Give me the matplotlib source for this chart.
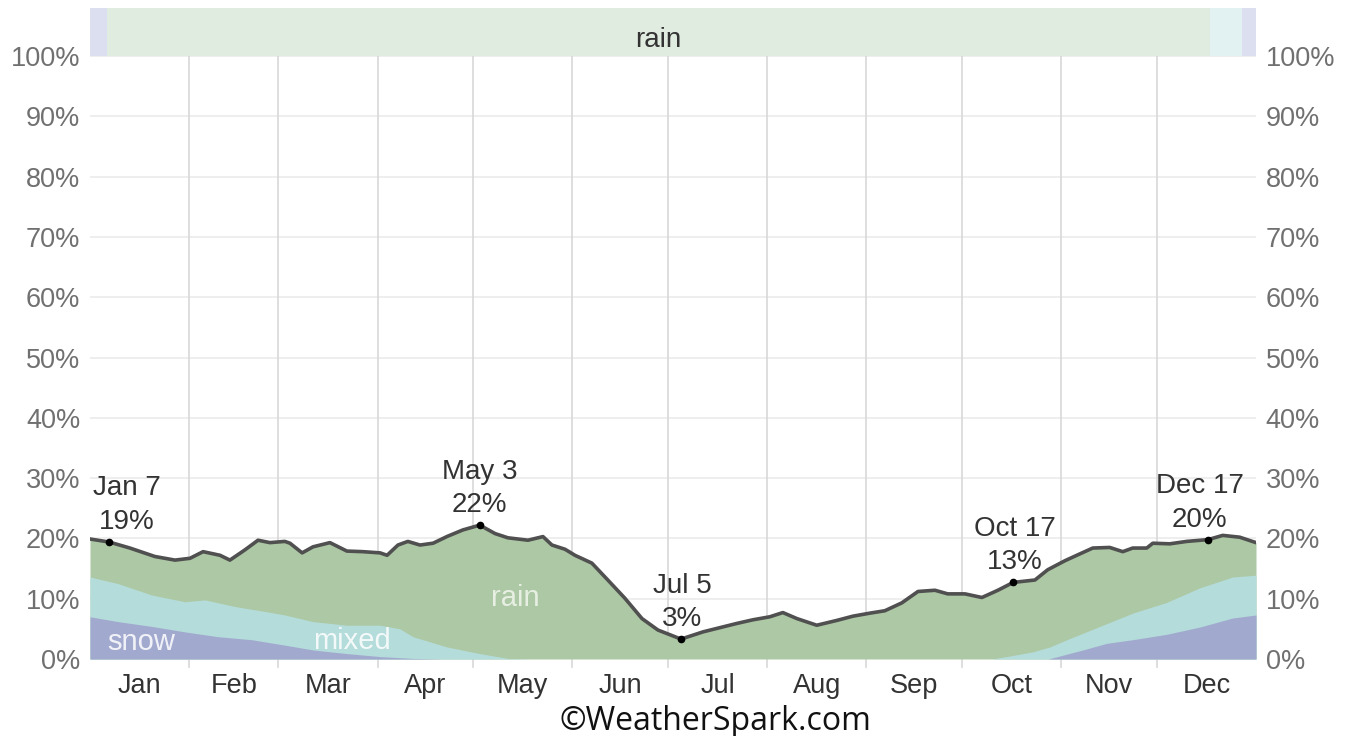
import matplotlib
matplotlib.use("Agg")
import matplotlib.pyplot as plt

# ---------------- data (day of year, percent) ----------------
month_names = ["Jan", "Feb", "Mar", "Apr", "May", "Jun", "Jul", "Aug", "Sep", "Oct", "Nov", "Dec"]
month_lengths = [31, 28, 31, 30, 31, 30, 31, 31, 30, 31, 30, 31]

total_days = [0, 6, 12.5, 20.3, 26.6, 31.3, 35.4, 40.7, 43.8, 48.5, 52.6, 56.3, 61, 62.6, 66.4,
              69.8, 75.1, 80.4, 85.4, 90.8, 93, 96.4, 99.5, 103.3, 107.4, 111.7, 116.7, 122,
              126.8, 130.8, 137.1, 141.8, 144.6, 148.7, 151.8, 157.1, 162.1, 167.4, 172.8,
              177.8, 183.1, 185, 191.9, 197.2, 202.5, 207.5, 212.8, 216.9, 221.3, 227.5,
              233.8, 238.8, 244.1, 248.8, 254.1, 259.2, 264.5, 268.5, 273.9, 279.2, 284.2,
              289, 295.8, 299.8, 305.2, 308.9, 313.9, 319.2, 323.3, 326.4, 330.8, 332.7,
              338, 343.3, 350, 354.6, 359.9, 365]
total_vals = [19.9, 19.4, 18.4, 17.0, 16.4, 16.7, 17.8, 17.2, 16.4, 18.1, 19.7, 19.3, 19.5, 19.2, 17.6,
              18.6, 19.3, 17.9, 17.8, 17.6, 17.2, 18.9, 19.5, 18.9, 19.2, 20.3, 21.4, 22.2,
              20.8, 20.1, 19.7, 20.3, 18.9, 18.2, 17.2, 15.9, 13.1, 10.1, 6.7,
              4.8, 3.7, 3.3, 4.5, 5.2, 5.9, 6.5, 7.0, 7.7, 6.7, 5.6,
              6.4, 7.1, 7.6, 8.0, 9.3, 11.2, 11.4, 10.8, 10.8, 10.2, 11.4,
              12.7, 13.1, 14.8, 16.3, 17.2, 18.4, 18.5, 17.8, 18.4, 18.4, 19.2,
              19.1, 19.5, 19.8, 20.5, 20.2, 19.3]

# cumulative snow + mixed
mixed_days = [0, 8.8, 19.4, 29.7, 36, 45.4, 55.7, 61, 69.8, 80.4, 90.8, 97, 101.1, 111.7, 122,
              130.8, 137.7, 282.3, 288, 295.2, 300.5, 305.8, 316.1, 326.4, 337.1, 347.4, 357.7, 365]
mixed_vals = [13.6, 12.5, 10.6, 9.5, 9.8, 8.7, 7.8, 7.3, 6.2, 5.6, 5.6, 5.0, 3.7, 2.0, 0.9,
              0.1, 0.0, 0.0, 0.5, 1.2, 2.0, 3.2, 5.4, 7.6, 9.4, 11.8, 13.6, 13.9]

snow_days = [0, 8.8, 19.4, 29.7, 40, 50.6, 61, 69.8, 80.4, 90.8, 101, 110, 300, 310.8, 318.3,
             326.4, 337.1, 347.4, 357.7, 365]
snow_vals = [7.0, 6.2, 5.4, 4.5, 3.7, 3.2, 2.3, 1.5, 0.9, 0.4, 0.1, 0.0, 0.0, 1.5, 2.6,
             3.2, 4.1, 5.3, 6.8, 7.3]

# annotated extremes
ann_days = [6, 122, 185, 289, 350]
ann_vals = [19.4, 22.2, 3.3, 12.7, 19.8]
ann_labels = ["Jan 7\n19%", "May 3\n22%", "Jul 5\n3%", "Oct 17\n13%", "Dec 17\n20%"]

# top band: most likely type per day (type, start day, end day)
band_types = ["snow", "rain", "mixed", "snow"]
band_starts = [0, 5.3, 350.5, 360.6]
band_ends = [5.3, 350.5, 360.6, 365]

# ---------------- styling ----------------
C_RAIN = "#adc8a4"
C_MIXED = "#b4dcda"
C_SNOW = "#a2a9cf"
BAND = {"rain": "#e1ece0", "mixed": "#e2f1f1", "snow": "#dcdff0"}
FONT = ["Liberation Sans", "DejaVu Sans"]
plt.rcParams["font.family"] = FONT

W, H = 1354, 736
fig = plt.figure(figsize=(W / 100, H / 100), dpi=100)
L, R, B, T = 90, 1256, 659, 56
ax = fig.add_axes([L / W, 1 - B / H, (R - L) / W, (B - T) / H])

ax.set_xlim(0, 365)
ax.set_ylim(0, 100)

# grid
for v in range(0, 101, 10):
    ax.axhline(v, color="#ebebeb", lw=1.2, zorder=0)
starts = [sum(month_lengths[:i]) for i in range(12)]
for s in starts[1:]:
    ax.axvline(s, ymin=-0.014, ymax=1, color="#d8d8d8", lw=1.2, zorder=0.5, clip_on=False)

# stacked areas
ax.fill_between(total_days, 0, total_vals, color=C_RAIN, lw=0, zorder=1)
ax.fill_between(mixed_days, 0, mixed_vals, color=C_MIXED, lw=0, zorder=2)
ax.fill_between(snow_days, 0, snow_vals, color=C_SNOW, lw=0, zorder=3)
ax.plot(total_days, total_vals, color="#505050", lw=2.6, zorder=4, solid_joinstyle="round")

# area labels
ax.text(16, 2.9, "snow", color="white", fontsize=21, ha="center", va="center", alpha=0.85, zorder=5)
ax.text(82, 3.0, "mixed", color="white", fontsize=21, ha="center", va="center", alpha=0.85, zorder=5)
ax.text(133, 10.1, "rain", color="#e6efe2", fontsize=21, ha="center", va="center", zorder=5)

# annotations
offs = [13, 0, 1, 1, -6]
for d, v, lab, o in zip(ann_days, ann_vals, ann_labels, offs):
    ax.plot([d], [v], "o", color="black", ms=4.5, zorder=6)
    ax.annotate(lab, (d, v), xytext=(o, 5), textcoords="offset points", ha="center", va="bottom",
                fontsize=20, color="#333333", linespacing=1.38, zorder=6)

# axes styling
for sp in ax.spines.values():
    sp.set_visible(False)
ax.set_yticks(range(0, 101, 10))
ax.set_yticklabels([f"{v}%" for v in range(0, 101, 10)])
ax.tick_params(axis="y", length=0, labelsize=19.5, labelcolor="#707070", pad=7,
               left=False, right=False, labelleft=True, labelright=True)
mids = [s + n / 2 for s, n in zip(starts, month_lengths)]
ax.set_xticks(mids)
ax.set_xticklabels(month_names)
ax.tick_params(axis="x", length=0, labelsize=19.5, labelcolor="#333333", pad=10)

# top band
bax = fig.add_axes([L / W, 1 - T / H, (R - L) / W, 48 / H])
bax.set_xlim(0, 365)
bax.set_ylim(0, 1)
for t, s, e in zip(band_types, band_starts, band_ends):
    bax.axvspan(s, e, color=BAND[t], lw=0)
    if t == "rain":
        bax.text((s + e) / 2, 9 / 48, t, ha="center", va="baseline", fontsize=20, color="#333333")
bax.axis("off")

fig.text(715 / W, 1 - 718 / H, "©WeatherSpark.com", ha="center", va="center_baseline", fontsize=23,
         color="#111111", family=["Open Sans", "DejaVu Sans"])

fig.savefig("out.png", dpi=100)
